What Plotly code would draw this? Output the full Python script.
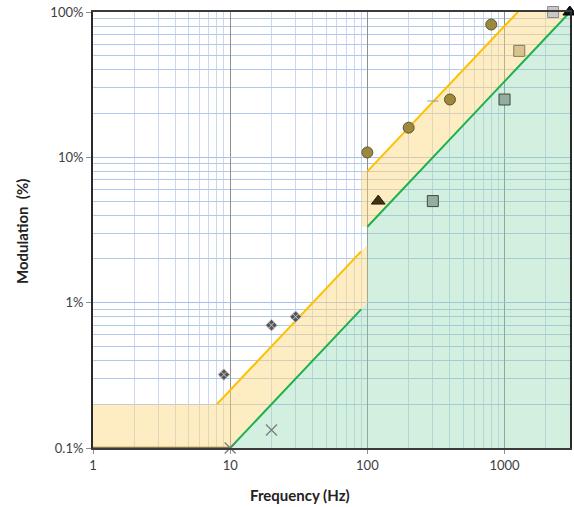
import plotly.graph_objects as go
import numpy as np

# ---- data ----
# limit lines: endpoints (frequency Hz, modulation %)
orange_low_x = [8, 90]
orange_low_y = [0.2, 2.25]
orange_high_x = [100, 1250]
orange_high_y = [8, 100]
green_low_x = [10, 90]
green_low_y = [0.1, 0.9]
green_high_x = [100, 3000]
green_high_y = [3.33, 100]

# shaded regions (polygons)
yellow_low_x = [1, 1, 8, 90, 100, 100, 90, 10, 1]
yellow_low_y = [0.1, 0.2, 0.2, 2.25, 2.5, 1.0, 0.9, 0.1, 0.1]
yellow_high_x = [90, 90, 100, 1250, 3000, 100, 90]
yellow_high_y = [3.33, 8, 8, 100, 100, 3.33, 3.33]
green_x = [10, 90, 100, 100, 3000, 3000, 10]
green_y = [0.1, 0.9, 1.0, 3.33, 100, 0.1, 0.1]

# measured points
diamond_f = [9, 20, 30]
diamond_m = [0.32, 0.70, 0.80]
cross_f = [10, 20]
cross_m = [0.1, 0.133]
circle_f = [100, 200, 400, 800]
circle_m = [10.8, 16, 25, 82]
dash_f = [300]
dash_m = [24.4]
tri_f = [120]
tri_m = [5.0]
tri_black_f = [2990]
tri_black_m = [100]
sq_green_f = [300, 1000]
sq_green_m = [5.0, 25]
sq_tan_f = [1280]
sq_tan_m = [54]
sq_gray_f = [2260]
sq_gray_m = [100]

x_tickvals = [1, 10, 100, 1000]
x_ticktext = ["1", "10", "100", "1000"]
y_tickvals = [0.1, 1, 10, 100]
y_ticktext = ["0.1%", "1%", "10%", "100%"]

fig = go.Figure()

yellow_fill = "rgba(252,214,120,0.45)"
green_fill = "rgba(140,212,170,0.38)"

fig.add_trace(go.Scatter(x=yellow_low_x, y=yellow_low_y, fill="toself", fillcolor=yellow_fill,
                         mode="none", hoverinfo="skip"))
fig.add_trace(go.Scatter(x=yellow_high_x, y=yellow_high_y, fill="toself", fillcolor=yellow_fill,
                         mode="none", hoverinfo="skip"))
fig.add_trace(go.Scatter(x=green_x, y=green_y, fill="toself", fillcolor=green_fill,
                         mode="none", hoverinfo="skip"))

# olive base line under the low-frequency yellow block
fig.add_trace(go.Scatter(x=[1, 10], y=[0.1, 0.1], mode="lines",
                         line=dict(color="#8a7a45", width=2.5), cliponaxis=False))

for xs, ys, c in [(orange_low_x, orange_low_y, "#FFC000"), (orange_high_x, orange_high_y, "#FFC000"),
                  (green_low_x, green_low_y, "#1DB050"), (green_high_x, green_high_y, "#1DB050")]:
    fig.add_trace(go.Scatter(x=xs, y=ys, mode="lines", line=dict(color=c, width=2)))

fig.add_trace(go.Scatter(x=diamond_f, y=diamond_m, mode="markers",
                         marker=dict(symbol="diamond-x", size=9, color="#555555",
                                     line=dict(color="#c8c8c8", width=1))))
fig.add_trace(go.Scatter(x=cross_f, y=cross_m, mode="markers", cliponaxis=False,
                         marker=dict(symbol="x-thin", size=11, color="#7a7a7a",
                                     line=dict(color="#7a7a7a", width=1.2))))
fig.add_trace(go.Scatter(x=circle_f, y=circle_m, mode="markers",
                         marker=dict(symbol="circle", size=11, color="#9c8a3c",
                                     line=dict(color="#5e5230", width=1))))
fig.add_trace(go.Scatter(x=dash_f, y=dash_m, mode="markers",
                         marker=dict(symbol="line-ew", size=8, color="#8a9ab0",
                                     line=dict(color="#8a9ab0", width=1))))
fig.add_trace(go.Scatter(x=tri_f, y=tri_m, mode="markers",
                         marker=dict(symbol="triangle-up", size=12, color="#3f3210",
                                     line=dict(color="#2a200a", width=1))))
fig.add_trace(go.Scatter(x=sq_green_f, y=sq_green_m, mode="markers",
                         marker=dict(symbol="square", size=11, color="#93ae9e",
                                     line=dict(color="#3e4a42", width=1))))
fig.add_trace(go.Scatter(x=sq_tan_f, y=sq_tan_m, mode="markers",
                         marker=dict(symbol="square", size=11, color="#d6c390",
                                     line=dict(color="#8a7a55", width=1))))
fig.add_trace(go.Scatter(x=sq_gray_f, y=sq_gray_m, mode="markers", cliponaxis=False,
                         marker=dict(symbol="square", size=11, color="#c8c8c8",
                                     line=dict(color="#8a8a8a", width=1))))
fig.add_trace(go.Scatter(x=tri_black_f, y=tri_black_m, mode="markers", cliponaxis=False,
                         marker=dict(symbol="triangle-up", size=12, color="#111111",
                                     line=dict(color="#000000", width=1))))

x_minor = [m * 10 ** d for d in range(0, 4) for m in range(2, 10) if m * 10 ** d <= 3000]
y_minor = [m * 10 ** d for d in range(-1, 2) for m in range(2, 10)]

fig.update_xaxes(type="log", range=[0, np.log10(3000)], automargin=False,
                 tickvals=x_tickvals, ticktext=x_ticktext,
                 showgrid=True, gridcolor="#8f8f8f", gridwidth=1,
                 minor=dict(tickvals=x_minor, showgrid=True, gridcolor="#cad8ef", gridwidth=1, ticks=""),
                 ticks="outside", ticklen=4, tickcolor="#8f8f8f",
                 showline=True, linecolor="#3a3a3a", linewidth=2, mirror=True,
                 zeroline=False,
                 tickfont=dict(family="Lato", size=13, color="#404040"))
fig.update_yaxes(type="log", range=[-1, 2], automargin=False,
                 tickvals=y_tickvals, ticktext=y_ticktext,
                 showgrid=True, gridcolor="#a9c1e8", gridwidth=1,
                 minor=dict(tickvals=y_minor, showgrid=True, gridcolor="#b2c8ea", gridwidth=1, ticks=""),
                 ticks="outside", ticklen=5, tickcolor="#8f8f8f",
                 showline=True, linecolor="#2a2a2a", linewidth=2, mirror=True,
                 zeroline=False,
                 tickfont=dict(family="Lato", size=13, color="#404040"))

fig.add_annotation(text="<b>Frequency (Hz)</b>", xref="paper", yref="paper",
                   x=(300 - 93) / 477, y=-(495 - 448) / 436, xanchor="center", yanchor="middle",
                   showarrow=False, font=dict(family="Lato", size=15, color="#222222"))
fig.add_annotation(text="<b>Modulation\u00a0 (%)</b>", xref="paper", yref="paper",
                   x=-(93 - 22) / 477, y=(448 - 232) / 436, xanchor="center", yanchor="middle",
                   textangle=-90, showarrow=False, font=dict(family="Lato", size=15, color="#222222"))

fig.update_layout(width=574, height=507, showlegend=False,
                  margin=dict(l=93, r=4, t=12, b=59),
                  plot_bgcolor="white", paper_bgcolor="white")

# remove the default 8px page margin so the figure fills the window exactly
fig.write_html("out.html", config={"displayModeBar": False},
               post_script="document.body.style.margin='0';document.body.style.overflow='hidden';")
